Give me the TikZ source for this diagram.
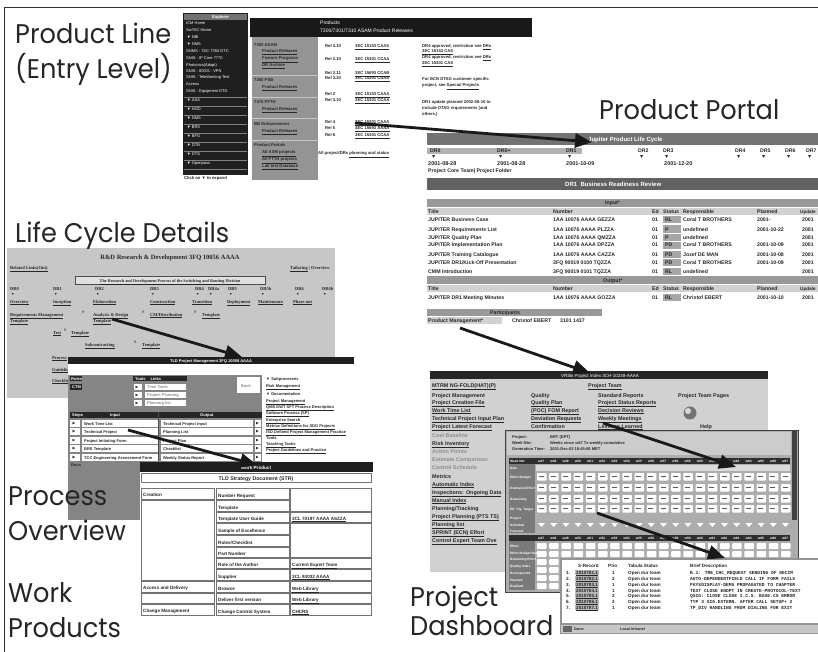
\documentclass[tikz,border=0pt]{standalone}
\usepackage{fontspec}
\setmainfont{Liberation Sans}
\newfontfamily\lblfont{Poppins}[FakeStretch=0.95]
\newfontfamily\serfont{Liberation Serif}
\newfontfamily\monofont{Liberation Mono}
\newfontfamily\symfont{DejaVu Sans}
\usetikzlibrary{arrows.meta}
\newcounter{tn}
\newcommand{\tx}[4][]{\stepcounter{tn}\node[tinytxt,#1] (t\arabic{tn}) at (#2,#3) {#4};}
\newcommand{\rtri}{{\symfont ▶}}
\def\tsz{4.3}
\begin{document}
\begin{tikzpicture}[x=1pt,y=-1pt,
  lbl/.style={font=\lblfont\fontsize{27}{27}\selectfont,anchor=base west,inner sep=0pt,text=black!85},
  tinytxt/.style={font=\fontsize{\tsz}{\tsz}\selectfont\bfseries,anchor=base west,inner sep=0pt,text=black!85},
  wt/.style={text=white},
  lt/.style={text=black!45},
  sertx/.style={font=\serfont\bfseries\fontsize{4.5}{5}\selectfont},
  mono/.style={font=\monofont\bfseries\fontsize{4.6}{5}\selectfont},
  cellb/.style={draw=black!55,line width=0.5pt},
  bigarrow/.style={line width=2.8pt,black!90,-{Triangle[length=17pt,width=14pt]}},
]
\useasboundingbox (0,0) rectangle (818,652);
\fill[white] (0,0) rectangle (818,652);
\draw[line width=1.2pt,black!80] (4.5,660) -- (4.5,7.5) -- (830,7.5);

% ================= Panel A : Product Line =================
\def\tsz{4.2}
\fill[black!88] (183,13) rectangle (248,175);
\fill[black!55] (184,14) rectangle (247,20);
\tx[wt]{212}{18.8}{Explorer}
\foreach \y/\t in {25/ICM Home,32/SwTAC Home,39/\,▼ NBI,46/\,▼ NMS,53/SNMS - 7DC 7350 DTC,60/SNIS - IP Core 7770,67/Photonics(Adapt),73/SNIS - 8GSS - VPN,79/SNIS - TeleWorking Test,86/Access,93/SNIS - Equipment DTD,102/\,▼ ASA,111/\,▼ NGD,120/\,▼ NMS,129/\,▼ BRS,138/\,▼ BFG,147/\,▼ DTB,156/\,▼ DTS,165/\,▼ Openpass}
  {\tx[wt,font=\fontsize{4}{5}\selectfont]{186}{\y}{\t}}
\foreach \y in {97,106,115,124,133,142,151,160,169}{\draw[black!50,line width=0.6pt] (184,\y) -- (247,\y);}
\tx{184}{180}{Click on ▼ to expand}
\fill[black!90] (250,18) rectangle (532,37);
\tx[wt,font=\fontsize{5}{6}\selectfont]{320}{25}{Products}
\tx[wt,font=\fontsize{5}{6}\selectfont]{320}{33}{7300/7301/7310 ASAM Product Releases}
\fill[black!42] (252,37) rectangle (318,180);
\foreach \y/\t/\b in {47/7300 ASAM/1,53/Product Releases/0,60/Feature Programs/0,67/DR Archive/0,82/7350 PSB/1,89/Product Releases/0,104/7370 PFTH/1,111/Product Releases/0,126/BB Enhancement/1,133/Product Releases/0,147/Product Portals/1,154/All ASM projects/0,161/All FTTH projects/0,168/Lab test Database/0}
  {\ifnum\b=1 \tx{254}{\y}{\t}\else\tx{262}{\y}{\underline{\t}}\fi}
\foreach \y in {75,97,118,140}{\draw[black!22,line width=0.8pt] (252,\y) -- (318,\y);}
\foreach \y/\r/\c in {48/Rel 3.10/3EC 15153 CAAS,61/Rel 2.10/3EC 15301 CCAA,75/Rel 2.11/3EC 15693 CCAB,80/Rel 3.20/3EC 15301 CAAA,96/Rel 2/3EC 15153 CAAA,102/Rel 3.10/3EC 15301 CCAA,124/Rel 4/3EC 15301 CAAA,130/Rel 5/3EC 15693 AAAA,137/Rel 6/3EC 15301 CCAA}
  {\tx{325}{\y}{\r}\tx{355}{\y}{\underline{\c}}}
\tx{422}{48}{DR4 approved, restriction see \underline{DRs}}
\tx{422}{53}{\underline{3EC 15153 CAS}}
\tx{422}{59}{DR4 approved, restriction see \underline{DRs}}
\tx{422}{65}{\underline{3EC 15301 CAS}}
\tx{422}{81}{For BCN DTAG customer specific}
\tx{422}{87}{project, see \underline{Special Projects}}
\tx{422}{104}{DR1 update planned 2002-06-10 to}
\tx{422}{110}{include DTAG requirements (and}
\tx{422}{116}{others.)}
\tx{318}{155}{All project/DRs \underline{planning and status}}

% ================= Panel B : Product Portal =================
\def\tsz{5.2}
\fill[black!55] (427,133) rectangle (818,145);
\tx[wt,font=\fontsize{6}{6}\selectfont\bfseries]{588}{141.5}{Jupiter Product Life Cycle}
\fill[black!30] (427,148) rectangle (582,154);
\foreach \x/\t in {430/DR0,497/DR0+,566/DR1,638/DR2,663/DR3,735/DR4,760/DR5,785/DR6,806/DR7}
  {\tx{\x}{153}{\t}\tx{\x+1}{159}{▼}}
\foreach \x/\t in {428/2001-08-28,497/2001-08-28,566/2001-10-09,664/2001-12-20}
  {\tx[font=\fontsize{5.5}{6}\selectfont\bfseries]{\x}{165.5}{\t}}
\tx{428}{173}{Project Core Team| Project Folder}
\fill[black!62] (427,178) rectangle (818,190);
\tx[wt,font=\fontsize{6}{6}\selectfont\bfseries]{565}{186.5}{DR1 \ Business Readiness Review}
\fill[black!40] (427,199) rectangle (818,207);
\tx{605}{205}{Input*}
\fill[black!18] (427,208) rectangle (818,215);
\foreach \x/\t in {428/Title,553/Number,652/Ed,663/Status,683/Responsible,757/Planned}{\tx{\x}{213.5}{\t}}
\tx[font=\fontsize{4.6}{5}\selectfont\bfseries]{800}{213.5}{Update}
\foreach \y/\ti/\nu/\st/\re/\pl in {222/JUPITER Business Case/1AA 10076 AAAA GEZZA/RL/Coral T BROTHERS/2001-,231/JUPITER Requirements List/1AA 10076 AAAA PLZZA/P/undefined/2001-10-22,239/JUPITER Quality Plan/1AA 10076 AAAA QMZZA/P/undefined/,247/JUPITER Implementation Plan/1AA 10076 AAAA DPZZA/PD/Coral T BROTHERS/2001-10-09,256/JUPITER Training Catalogue/1AA 10076 AAAA CAZZA/PD/Jozef DE MAN/2001-10-08,264/{JUPITER DR1/Kick-Off Presentation}/3FQ 90019 0100 TQZZA/PD/Coral T BROTHERS/2001-10-09,273/CMM Introduction/3FQ 90019 0101 TQZZA/RL/undefined/}
  {\fill[black!35] (663,\y-5.5) rectangle (681,\y+1.5);
   \tx{428}{\y}{\ti}\tx{553}{\y}{\nu}\tx{652}{\y}{01}\tx{665}{\y}{\st}\tx{683}{\y}{\re}\tx{757}{\y}{\pl}\tx{802}{\y}{2001}}
\fill[black!40] (427,276) rectangle (818,284);
\tx{603}{282}{Output*}
\fill[black!18] (427,285) rectangle (818,292);
\foreach \x/\t in {428/Title,553/Number,652/Ed,663/Status,683/Responsible,757/Planned}{\tx{\x}{290.5}{\t}}
\tx[font=\fontsize{4.6}{5}\selectfont\bfseries]{800}{290.5}{Update}
\fill[black!35] (663,294) rectangle (681,301);
\tx{428}{299.5}{JUPITER DR1 Meeting Minutes}\tx{553}{299.5}{1AA 10076 AAAA GOZZA}\tx{652}{299.5}{01}\tx{665}{299.5}{RL}\tx{683}{299.5}{Christof EBERT}\tx{757}{299.5}{2001-10-10}\tx{802}{299.5}{2001}
\fill[black!40] (427,309) rectangle (602,316);
\tx{490}{314.5}{Participants}
\fill[black!18] (427,317) rectangle (502,324);
\tx{428}{322}{Product Management*}\tx{512}{322}{Christof EBERT}\tx{560}{322}{3101 1437}

% ================= Panel D : R&D Life Cycle =================
\def\tsz{4.3}
\fill[black!22] (7,248) rectangle (335,398);
\tx[font=\serfont\bfseries\fontsize{6.5}{7}\selectfont,anchor=base]{170}{259}{R\&D Research \& Development 3FQ 10056 AAAA}
\tx[sertx]{10}{269}{\underline{Related Links(Out)}}
\tx[sertx]{290}{269}{\underline{Tailoring} | Overview}
\draw[black!70,fill=black!12] (75,276) rectangle (265,284);
\tx[font=\serfont\bfseries\fontsize{4.2}{5}\selectfont,anchor=base]{170}{282}{\underline{The Research and Development Process of the Switching and Routing Division}}
\foreach \x/\t in {10/DR0,53/DR1,95/DR2,150/DR3,195/DR4,208/DR4a,228/DR5,260/DR5b,295/DR6,322/DR6b}
  {\tx[sertx]{\x}{290}{\t}\tx[font=\fontsize{3.5}{4}\selectfont]{\x+1}{295.5}{▼}}
\foreach \x/\t in {10/Overview,53/Inception,93/Elaboration,150/Construction,192/Transition,227/Deployment,258/Maintenance,293/Phase-out}
  {\tx[sertx]{\x}{303}{\underline{\t}}}
\foreach \x/\y/\t in {10/316/Requirements Management,10/322/Template,93/316/Analysis \& Design,93/322/Template,150/316/{CM/Distribution},202/316/Template,53/334/Test,71/334/Template,85/346/Subcontracting,142/346/Template,52/359/Process,52/371/Guidelines,52/382/Checklists}
  {\tx[sertx]{\x}{\y}{\underline{\t}}}
\foreach \x/\y in {82/313,142/313,194/313,64/331,134/343}{\tx[font=\fontsize{3.5}{4}\selectfont\bfseries]{\x}{\y}{!!}}

% ================= Panel E : Process Overview =================
\def\tsz{4}
\fill[white] (68,364) rectangle (354,466);
\fill[black!88] (68,357) rectangle (354,364);
\tx[wt,anchor=base]{211}{362.3}{TLD Project Management 3FQ 10058 AAAA}
\fill[black!48] (68,375) rectangle (262,520);
\fill[black!85] (70,376) rectangle (82,381); \tx[wt]{71}{380}{Roles}
\fill[black!85] (70,384) rectangle (82,390); \tx[wt]{72}{388.5}{CTM}
\fill[black!85] (133,376) rectangle (187,381); \tx[wt]{135}{380}{Tools \quad Links}
\foreach \y in {384,392,400}{\fill[white] (134,\y) rectangle (142,\y+6);\tx[font=\fontsize{3.6}{4}\selectfont]{135.5}{\y+4.6}{\rtri}\fill[white] (145,\y) rectangle (186,\y+6);}
\tx[lt]{147}{388.8}{Time Tools}\tx[lt]{147}{396.8}{Project Planning}\tx[lt]{147}{404.8}{Planning list}
\fill[white] (237,377) rectangle (260,393); \tx[lt]{241}{387}{Back}
\fill[black!85] (70,412) rectangle (262,418);
\tx[wt]{72}{416.5}{Steps}\tx[wt]{110}{416.5}{Input}\tx[wt]{200}{416.5}{Output}
\foreach \y/\a/\b in {420/Work Time List/Technical Project Input,428/Technical Project/Planning List,437/Project Initiating Form/Project Plan,445/BRS Template/Checklist,454/TCC Engineering Assessment Form/Weekly Status Report}
  {\fill[white] (70,\y) rectangle (80,\y+6.5);\tx[font=\fontsize{3.6}{4}\selectfont]{72.5}{\y+4.8}{\rtri}
   \fill[white] (82,\y) rectangle (158,\y+6.5);\tx{84}{\y+5}{\a}
   \fill[white] (161,\y) rectangle (253,\y+6.5);\tx{163}{\y+5}{\b}
   \fill[white] (255,\y) rectangle (261,\y+6.5);\tx[font=\fontsize{3.6}{4}\selectfont]{256}{\y+4.8}{\rtri}}
\draw[black!70] (158.5,412) -- (158.5,461);
\tx{71}{466}{Docs}
\foreach \y/\t in {380/{▼ Subprocesses},387/\underline{Risk Management},395/{▼ Documentation},402/\underline{Project Management},408/\underline{QMS DWT SFT Process Description},414/\underline{Software Process (SP)},421/\underline{Enterprise Search},427/\underline{Metrics Definitions for SDG Projects},433/\underline{ISO Defined Project Management Practice},439/Tools,445/\underline{Teaching Tasks},451/\underline{Project Guidelines and Practice}}
  {\tx{266}{\y}{\t}}

% ================= Panel F : Work Products table =================
\def\tsz{4.6}
\fill[white] (140,462) rectangle (373,617);
\fill[black!88] (140,462) rectangle (373,472);
\tx[wt,anchor=base]{256}{469.5}{Work Product}
\draw[cellb] (141.5,473.5) rectangle (371.5,482.5);
\tx[anchor=base,font=\fontsize{5.2}{6}\selectfont\bfseries]{256}{480.5}{TLD Strategy Document (STR)}
\draw[cellb] (141.5,488.5) rectangle (214.5,499.5); \tx{143}{496.5}{Creation}
\draw[cellb] (141.5,500.5) rectangle (214.5,580.5);
\draw[cellb] (141.5,581.5) rectangle (214.5,592.5); \tx{143}{589.5}{Access and Delivery}
\draw[cellb] (141.5,593.5) rectangle (214.5,603.5);
\draw[cellb] (141.5,604.5) rectangle (214.5,615.5); \tx{143}{612.5}{Change Management}
\foreach \a/\b/\t in {488/500/Number Request,500/512/Template,512/523/Template User Guide,523/535/Sample of Excellence,535/547/{Rules/Checklist},547/558/Part Number,558/569/Role of the Author,569/581/Supplier,581/593/Browse,593/604/Deliver first version,604/616/Change Control System}
  {\draw[cellb] (216.5,\a+0.5) rectangle (289.5,\b-0.5);\tx{218}{\b-3}{\t}}
\draw[cellb] (290.5,488.5) rectangle (371.5,511.5);
\draw[cellb] (290.5,523.5) rectangle (371.5,557.5);
\foreach \a/\b/\t in {512/523/3CL 70197 AAAA ASZZA,558/569/Current Expert Team,569/581/3CL 93032 AAAA,581/593/Web Library,593/604/Web Library,604/616/CHCRS}
  {\draw[cellb] (290.5,\a+0.5) rectangle (371.5,\b-0.5);\tx{292}{\b-3}{\underline{\t}}}

% ================= Panel C : Project Dashboard =================
\def\tsz{5.4}
\fill[black!18] (430,379) rectangle (768,572);
\fill[black!85] (430,371) rectangle (768,379);
\tx[wt,anchor=base,font=\fontsize{4.5}{5}\selectfont]{600}{377}{VRSB Project Index 3CH-10248-AAAA}
\tx{432}{387}{\underline{MTRM NG-FOLD(HAT)(P)}}\tx{588}{387}{\underline{Project Team}}
\foreach \y/\a/\b/\c in {397/Project Management/Quality/Standard Reports,404/\underline{Project Creation File}/\underline{Quality Plan}/\underline{Project Status Reports},412/\underline{Work Time List}/\underline{(POC) FOM Report}/\underline{Decision Reviews},420/\underline{Technical Project Input Plan}/\underline{Deviation Requests}/\underline{Weekly Meetings},428/\underline{Project Latest Forecast}/Confirmation/\underline{Lessons Learned}}
  {\tx{432}{\y}{\a}\tx{531}{\y}{\b}\tx{598}{\y}{\c}}
\tx{678}{397}{Project Team Pages}
\fill[black!55] (690,413) circle (6.5); \fill[black!15] (688,411) circle (3);
\tx{700}{428}{Help}
\foreach \y/\t/\l in {437/Cost Baseline/1,445/\underline{Risk Inventory}/0,453/Action Points/1,461/Estimate Comparison/1,469/Control Schedule/1,478/Metrics/0,486/\underline{Automatic Index}/0,494/\underline{Inspections: Ongoing Data}/0,502/\underline{Manual Index}/0,510/{Planning/Tracking}/0,518/\underline{Project Planning (PTS TS)}/0,526/\underline{Planning list}/0,534/\underline{SPRINT (ECN) Effort}/0,542/\underline{Control Expert Team Ove}/0}
  {\ifnum\l=1 \tx[lt]{432}{\y}{\t}\else\tx{432}{\y}{\t}\fi}
\def\tsz{4}
\fill[black!32] (505,430) rectangle (798,592);
\draw[black!75,line width=1pt] (505,430) rectangle (798,592);
\fill[black!20] (507,432) rectangle (791,455);
\fill[black!75] (792,431) rectangle (797,520);
\tx{512}{438}{Project:}\tx{550}{438}{BRT (DPT)}
\tx{512}{444}{Week Nbr:}\tx{550}{444}{Weeks since w47 Tx weekly cumulative}
\tx{512}{450}{Generation Time:}\tx{550}{450}{2001-Dec-03 18:45:08 MET}
\fill[black!82] (509,458) rectangle (790,464);
\fill[black!14] (536,465) rectangle (790,471);
\fill[black!52] (509,464) rectangle (535,533);
\foreach \c in {0,...,20}{\tx[wt,font=\fontsize{3.2}{4}\selectfont\bfseries]{538+\c*12.2}{462.5}{w\the\numexpr47+\c\relax}}
\tx[wt,font=\fontsize{3.2}{4}\selectfont\bfseries]{510}{462.5}{Week Nbr}
\foreach \y/\t in {469.5/Date,478/Effort Budget,489/Estimated Effort,500/Remaining,510/Eff. Fig. Target,519/Project,526/Schedule,532/Forecast}
  {\tx[wt,font=\fontsize{3.2}{4}\selectfont\bfseries]{510}{\y}{\t}}
\foreach \r in {473,484,495,505}{\foreach \c in {0,...,20}{
  \fill[white,rounded corners=0.8pt] (537+\c*12.2,\r) rectangle ++(9.5,7.5);
  \fill[black!65] (538.5+\c*12.2,\r+3) rectangle ++(5,1.4);}}
\foreach \c in {0,...,20}{\fill[white] (538+\c*12.2,523) -- ++(7,0) -- ++(-3.5,4) -- cycle;}
\fill[black!82] (509,535) rectangle (790,541);
\foreach \c in {0,...,20}{\tx[wt,font=\fontsize{3.2}{4}\selectfont\bfseries]{538+\c*12.2}{539.5}{w\the\numexpr47+\c\relax}}
\fill[black!52] (509,541) rectangle (535,590);
\foreach \y/\t in {547/Effort,554/Effort Budget Realised,560/Remaining Effort,567/Quality Index,574/Re-Inspected,581/Planned,587/Realised}
  {\tx[wt,font=\fontsize{3.2}{4}\selectfont\bfseries]{510}{\y}{\t}}
\foreach \r in {543,551,559,567,575,583}{\foreach \c in {0,...,20}{
  \fill[white,rounded corners=0.8pt] (537+\c*12.2,\r) rectangle ++(9.5,6);}}
\fill[black!42] (560,558) rectangle (820,634);
\fill[white] (562,560) rectangle (820,623);
\fill[black!22] (561,624.5) rectangle (820,633);
\fill[black!60] (563,626) rectangle (572,632);
\tx[font=\fontsize{3.8}{4}\selectfont\bfseries]{574}{630.5}{Done}
\tx[font=\fontsize{3.8}{4}\selectfont\bfseries]{620}{630.5}{Local intranet}
\def\tsz{4.6}
\tx{578}{567.5}{S-Record}\tx{608}{567.5}{Prio}\tx{628}{567.5}{Tabula Status}\tx{690}{567.5}{Brief Description}
\foreach \k/\y/\p/\d in {1/574/1/B.1: TRE\_CHC\_REQUEST SENDING OF DECIM,2/580/2/AUTO-DEPENDENTFIELD CALL IF FORM FAILS,3/586/1/PAYSDISPLAY-DEMS PROPAGATED TO CHAPTER,4/592/1/TEST CLOSE ENDPT IN CREATE-PROTOCOL-TEXT,5/597/2/QSIG: CLOSE CLOSE I.C.S. BASE.CS ERROR,6/603/2/TYP 3 SIG.EXTERN. AFTER CALL SETUP+ 2,7/609/1/TP\_DIV HANDLING FROM DIALING FOR EXIT}
  {\tx{566}{\y}{\k.}\fill[black!28] (575,\y-4.5) rectangle (599,\y+0.8);
   \tx{576}{\y}{\underline{201078\k.1}}\tx{612}{\y}{\p}\tx{628}{\y}{Open dur team}
   \tx[mono]{690}{\y}{\d}}

% ================= Arrows =================
\coordinate (a1s) at (355,123); \coordinate (a1e) at (592,142);
\coordinate (a2s) at (460,328); \coordinate (a2e) at (590,373);
\coordinate (a3s) at (603,423); \coordinate (a3e) at (736,467);
\coordinate (a4s) at (597,513); \coordinate (a4e) at (725,558);
\coordinate (a5s) at (112,319); \coordinate (a5e) at (242,357);
\coordinate (a6s) at (128,430); \coordinate (a6e) at (257,465);
\foreach \a in {1,...,6}{\draw[bigarrow] (a\a s) -- (a\a e);}

% ================= Labels =================
\node[lbl] (lPL)  at (15,44)  {Product Line};
\node[lbl] (lEL)  at (15,79)  {(Entry Level)};
\node[lbl] (lPP)  at (599,120) {Product Portal};
\node[lbl] (lLC)  at (15,242) {Life Cycle Details};
\node[lbl] (lPr)  at (8,505)  {Process};
\node[lbl] (lOv)  at (8,540)  {Overview};
\node[lbl] (lWo)  at (8,602)  {Work};
\node[lbl] (lPd)  at (8,637)  {Products};
\node[lbl] (lPj)  at (410,606) {Project};
\node[lbl] (lDb)  at (410,635) {Dashboard};
\end{tikzpicture}
\end{document}
